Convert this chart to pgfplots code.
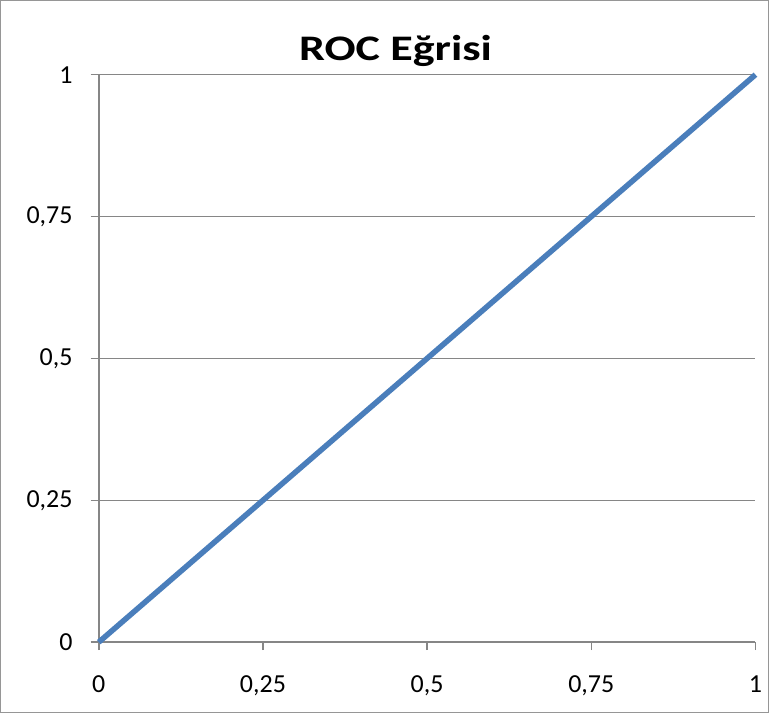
\documentclass[border=0pt]{standalone}
\usepackage{pgfplots}
\pgfplotsset{compat=1.18}
\usepackage{fontspec}
\setmainfont{Carlito}
\newfontfamily\titlefont[FakeStretch=1.28]{Carlito}
\definecolor{rocblue}{RGB}{74,126,187}
\definecolor{gridgray}{RGB}{134,134,134}
\definecolor{bordergray}{RGB}{150,150,150}
\begin{document}
\begin{tikzpicture}
\begin{axis}[
  scale only axis,
  width=655bp, height=566bp,
  xmin=0, xmax=1, ymin=0, ymax=1,
  axis lines*=left,
  axis line style={gridgray, line width=1.5bp},
  ymajorgrids,
  grid style={gridgray, line width=1.2bp},
  tick align=outside,
  major tick length=8bp,
  tick style={gridgray, line width=1.5bp},
  xtick={0,0.25,0.5,0.75,1},
  ytick={0,0.25,0.5,0.75,1},
  xticklabels={0,{0,25},{0,5},{0,75},1},
  yticklabels={0,{0,25},{0,5},{0,75},1},
  ticklabel style={font=\fontsize{26}{30}\selectfont, text=black},
  yticklabel style={anchor=east, inner sep=0pt, xshift=-18bp},
  xticklabel style={anchor=north, inner sep=0pt, yshift=-25bp},
  clip=false,
]
\addplot[rocblue, line width=5.5bp] coordinates {(0,0) (0.25,0.25) (0.5,0.5) (0.75,0.75) (1,1)};
\node[anchor=base, font=\titlefont\fontsize{36}{40}\selectfont\bfseries] at (rel axis cs:0.452,1.0247) {ROC Eğrisi};
\end{axis}
\draw[bordergray, line width=1bp] (-98bp,-70bp) rectangle (668bp,640bp);
\end{tikzpicture}
\end{document}
